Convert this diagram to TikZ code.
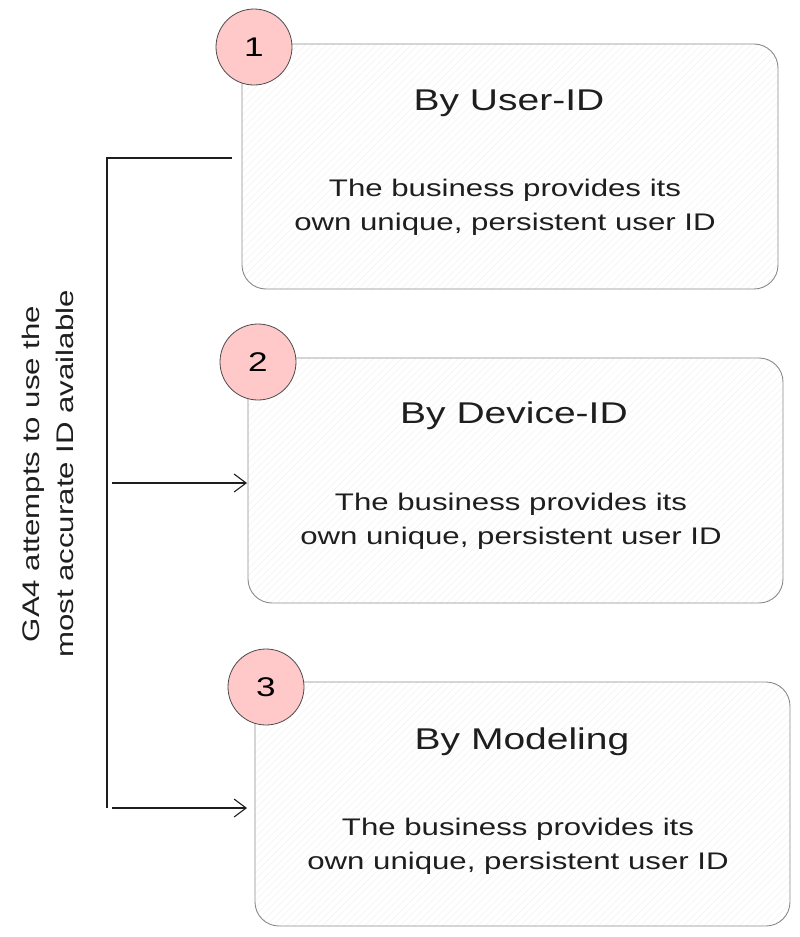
\documentclass[tikz,border=0pt]{standalone}
\usepackage{fontspec}
\setmainfont{Liberation Sans}
\newfontfamily\widefont[FakeStretch=1.3]{Liberation Sans}
\usetikzlibrary{arrows.meta,patterns.meta}
\definecolor{ink}{HTML}{1E1E1E}
\definecolor{boxline}{HTML}{8A8A8A}
\definecolor{pinkfill}{HTML}{FFC9C9}
\tikzset{
  card/.style={draw=boxline, line width=0.9pt, rounded corners=24pt,
    pattern={Lines[angle=45,distance=5pt,line width=0.35pt]}, pattern color=black!7},
  badge/.style={circle, draw=ink!80, line width=0.8pt, fill=pinkfill,
    minimum size=76pt, inner sep=0pt, font=\widefont\fontsize{27}{30}\selectfont},
  title/.style={font=\widefont\fontsize{30}{34}\selectfont, text=ink},
  body/.style={font=\widefont\fontsize{24}{34}\selectfont, text=ink, align=center},
  link/.style={draw=ink, line width=1.1pt},
  arr/.style={link, -{Straight Barb[length=12pt,width=18pt,line width=1.1pt]}}
}
\begin{document}
\begin{tikzpicture}[x=1pt,y=-1pt]
\useasboundingbox (0,0) rectangle (800,937);
% cards
\path[card] (242,44) rectangle (778,289);
\path[card] (248,358) rectangle (783,603);
\path[card] (255,682) rectangle (790,926);
% anchor coordinates
\coordinate (c1w) at (232,158);
\coordinate (c2w) at (247,483);
\coordinate (c3w) at (247,808);
\coordinate (corner) at (107,158);
\coordinate (bottom) at (107,808);
\coordinate (s2) at (112,483);
\coordinate (s3) at (112,808);
% badges
\node[badge] (b1) at (254,47) {1};
\node[badge] (b2) at (258,362) {2};
\node[badge] (b3) at (266,687) {3};
% titles and bodies
\node[title] (t1) at (509,103) {By User-ID};
\node[body] (d1) at (505,207) {The business provides its\\own unique, persistent user ID};
\node[title] (t2) at (514,416) {By Device-ID};
\node[body] (d2) at (511,521) {The business provides its\\own unique, persistent user ID};
\node[title] (t3) at (522,742) {By Modeling};
\node[body] (d3) at (518,846) {The business provides its\\own unique, persistent user ID};
% side label
\node[body, rotate=90] (side) at (48,474) {GA4 attempts to use the\\most accurate ID available};
% connectors
\draw[link] (c1w) -- (corner) -- (bottom);
\draw[arr] (s2) -- (c2w);
\draw[arr] (s3) -- (c3w);
\end{tikzpicture}
\end{document}
